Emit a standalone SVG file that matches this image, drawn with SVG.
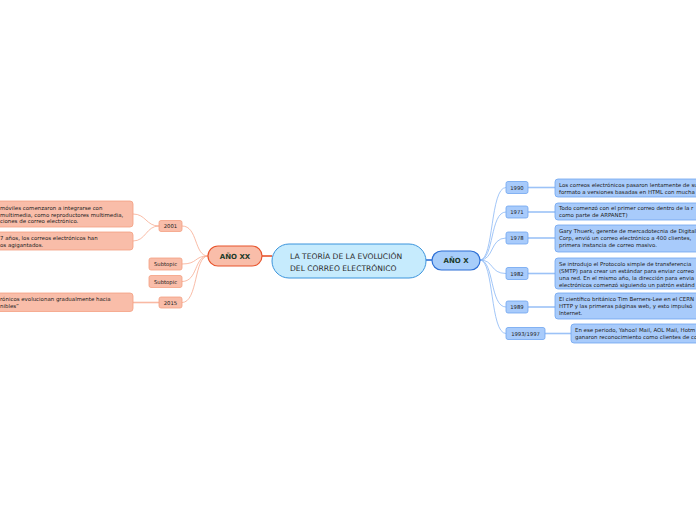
<svg xmlns="http://www.w3.org/2000/svg" width="696" height="520" viewBox="0 0 696 520">
<style>
text{font-family:"DejaVu Sans","Liberation Sans",sans-serif;fill:#222}
.t{font-size:5.45px}
.y{font-size:5.3px;text-anchor:middle}
.main{font-size:7px;font-weight:bold;fill:#1d3b2a;text-anchor:middle}
.center{font-size:7.6px;fill:#2a2a2a}
.bd{fill:#a8cbfb;stroke:#6ea4f0;stroke-width:0.8}
.od{fill:#f9bda9;stroke:#f4a081;stroke-width:0.8}
.cb{fill:none;stroke:#8ab7f5;stroke-width:0.8}
.cbh{fill:none;stroke:#9cc2f7;stroke-width:1.6}
.co{fill:none;stroke:#f7ab91;stroke-width:0.8}
.coh{fill:none;stroke:#f9b9a3;stroke-width:1.6}
</style>
<rect width="696" height="520" fill="#fff"/>
<g id="connectors">
<path d="M262,256 H272" stroke="#e8542c" stroke-width="1.6" fill="none"/>
<path d="M426,260 H432" stroke="#2d6fd6" stroke-width="1.6" fill="none"/>
<path class="cb" d="M480,260 C494,260 490,187.5 506,187.5"/>
<path class="cb" d="M480,260 C494,260 490,212 506,212"/>
<path class="cb" d="M480,260 C494,260 490,238 506,238"/>
<path class="cb" d="M480,260 C494,260 490,273.5 506,273.5"/>
<path class="cb" d="M480,260 C494,260 490,307 506,307"/>
<path class="cb" d="M480,260 C494,260 490,333.5 506,333.5"/>
<path class="cbh" d="M528,187.5 H555"/>
<path class="cbh" d="M528,212 H555"/>
<path class="cbh" d="M528,238 H555"/>
<path class="cbh" d="M528,273.5 H555"/>
<path class="cbh" d="M528,307 H555"/>
<path class="cbh" d="M545,333.5 H571"/>
<path class="co" d="M208,256 C194,256 198,226 182,226"/>
<path class="co" d="M208,256 C194,256 198,264 182,264"/>
<path class="co" d="M208,256 C194,256 198,281.5 182,281.5"/>
<path class="co" d="M208,256 C194,256 198,302.5 182,302.5"/>
<path class="co" d="M159,226 C146,226 146,214 133,214"/>
<path class="co" d="M159,226 C146,226 146,241 133,241"/>
<path class="coh" d="M159,302.5 H133"/>
</g>
<g id="center">
<rect x="272" y="244" width="154" height="34" rx="17" fill="#c6ebfd" stroke="#3b94dc" stroke-width="1"/>
<text class="center" x="290" y="259">LA TEORÍA DE LA EVOLUCIÓN</text>
<text class="center" x="290" y="270.5">DEL CORREO ELECTRÓNICO</text>
</g>
<g id="ano-x">
<rect x="432" y="251" width="48" height="19" rx="9.5" fill="#a7cdfa" stroke="#2d6fd6" stroke-width="1.2"/>
<text class="main" x="456" y="263">AÑO X</text>
</g>
<g id="ano-xx">
<rect x="208" y="246" width="54" height="20" rx="10" fill="#f9bda9" stroke="#e8542c" stroke-width="1.2"/>
<text class="main" x="235" y="258.5">AÑO XX</text>
</g>
<g id="y1990"><rect class="bd" x="506" y="181.5" width="22" height="12" rx="2"/><text class="y" x="517" y="189.5">1990</text></g>
<g id="y1971"><rect class="bd" x="506" y="206" width="22" height="12" rx="2"/><text class="y" x="517" y="214">1971</text></g>
<g id="y1978"><rect class="bd" x="506" y="232" width="22" height="12" rx="2"/><text class="y" x="517" y="240">1978</text></g>
<g id="y1982"><rect class="bd" x="506" y="267.5" width="22" height="12" rx="2"/><text class="y" x="517" y="275.5">1982</text></g>
<g id="y1989"><rect class="bd" x="506" y="301" width="22" height="12" rx="2"/><text class="y" x="517" y="309">1989</text></g>
<g id="y1993"><rect class="bd" x="506" y="327.5" width="39" height="12" rx="2"/><text class="y" x="525.5" y="335.5">1993/1997</text></g>
<g id="d1990"><rect class="bd" x="555" y="179" width="160" height="18" rx="3"/><text class="t" x="559" y="186.5">Los correos electrónicos pasaron lentamente de su</text><text class="t" x="559" y="193.5">formato a versiones basadas en HTML con mucha</text></g>
<g id="d1971"><rect class="bd" x="555" y="203" width="160" height="17" rx="3"/><text class="t" x="559" y="210">Todo comenzó con el primer correo dentro de la r</text><text class="t" x="559" y="217">como parte de ARPANET)</text></g>
<g id="d1978"><rect class="bd" x="555" y="225" width="160" height="27" rx="3"/><text class="t" x="559" y="233">Gary Thuerk, gerente de mercadotecnia de Digital</text><text class="t" x="559" y="240">Corp, envió un correo electrónico a 400 clientes,</text><text class="t" x="559" y="247">primera instancia de correo masivo.</text></g>
<g id="d1982"><rect class="bd" x="555" y="258" width="160" height="31" rx="3"/><text class="t" x="559" y="265.5">Se introdujo el Protocolo simple de transferencia</text><text class="t" x="559" y="272.5">(SMTP) para crear un estándar para enviar correo</text><text class="t" x="559" y="279.5">una red. En el mismo año, la dirección para envia</text><text class="t" x="559" y="286.5">electrónicos comenzó siguiendo un patrón estánd</text></g>
<g id="d1989"><rect class="bd" x="555" y="293" width="160" height="26" rx="3"/><text class="t" x="559" y="301">El científico británico Tim Berners-Lee en el CERN</text><text class="t" x="559" y="308">HTTP y las primeras páginas web, y esto impulsó</text><text class="t" x="559" y="315">Internet.</text></g>
<g id="d1993"><rect class="bd" x="571" y="324" width="150" height="19" rx="3"/><text class="t" x="575" y="331.5">En ese periodo, Yahoo! Mail, AOL Mail, Hotm</text><text class="t" x="575" y="338.5">ganaron reconocimiento como clientes de co</text></g>
<g id="y2001"><rect class="od" x="159" y="220.5" width="23" height="11" rx="2"/><text class="y" x="170.5" y="228">2001</text></g>
<g id="sub1"><rect class="od" x="149" y="258" width="33" height="12" rx="2"/><text class="y" x="165.5" y="266">Subtopic</text></g>
<g id="sub2"><rect class="od" x="149" y="275.5" width="33" height="12" rx="2"/><text class="y" x="165.5" y="283.5">Subtopic</text></g>
<g id="y2015"><rect class="od" x="159" y="297" width="23" height="11" rx="2"/><text class="y" x="170.5" y="304.5">2015</text></g>
<g id="l1"><rect class="od" x="-30" y="201" width="163" height="26" rx="3"/><text class="t" x="0" y="210">móviles comenzaron a integrarse con</text><text class="t" x="0" y="216.5">multimedia, como reproductores multimedia,</text><text class="t" x="0" y="223">ciones de correo electrónico.</text></g>
<g id="l2"><rect class="od" x="-30" y="232" width="163" height="18" rx="3"/><text class="t" x="0" y="239.5">7 años, los correos electrónicos han</text><text class="t" x="0" y="246.5">os agigantados.</text></g>
<g id="l3"><rect class="od" x="-30" y="293" width="163" height="18.5" rx="3"/><text class="t" x="0" y="300.5">rónicos evolucionan gradualmente hacia</text><text class="t" x="0" y="307.5">nibles”</text></g>
</svg>
